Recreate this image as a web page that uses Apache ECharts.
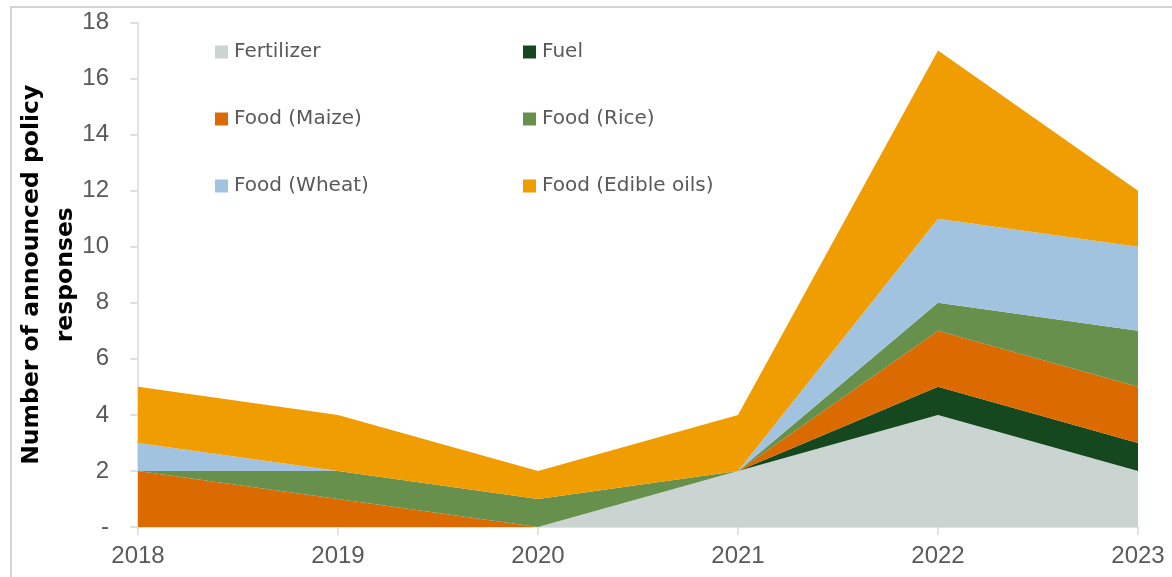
<!DOCTYPE html>
<html>
<head>
<meta charset="utf-8">
<script src="https://cdn.jsdelivr.net/npm/echarts@6/dist/echarts.min.js"></script>
<style>
html,body{margin:0;padding:0;background:#fff;}
#chart{width:1172px;height:577px;}
</style>
</head>
<body>
<div id="chart"></div>
<script>
var years = ['2018', '2019', '2020', '2021', '2022', '2023'];
var seriesNames = ['Fertilizer', 'Fuel', 'Food (Maize)', 'Food (Rice)', 'Food (Wheat)', 'Food (Edible oils)'];
var fertilizer = [0, 0, 0, 2, 4, 2];
var fuel = [0, 0, 0, 0, 1, 1];
var maize = [2, 1, 0, 0, 2, 2];
var rice = [0, 1, 1, 0, 1, 2];
var wheat = [1, 0, 0, 0, 3, 3];
var edibleOils = [2, 2, 1, 2, 6, 2];
var yTicks = [0, 2, 4, 6, 8, 10, 12, 14, 16, 18];

var colors = ['#CAD4D1', '#15481F', '#DB6A00', '#66904B', '#A2C3DF', '#EF9D00'];
var allData = [fertilizer, fuel, maize, rice, wheat, edibleOils];
var FONT = '"DejaVu Sans", sans-serif';
var NUMFONT = '"Liberation Sans", Arial, sans-serif';

var chart = echarts.init(document.getElementById('chart'), null, {renderer: 'canvas'});

var series = seriesNames.map(function (n, i) {
  return {
    name: n,
    type: 'line',
    stack: 'total',
    data: allData[i],
    symbol: 'none',
    lineStyle: {width: 0},
    areaStyle: {color: colors[i], opacity: 1},
    itemStyle: {color: colors[i]},
    emphasis: {disabled: true}
  };
});

var legendCommon = {
  orient: 'vertical',
  itemWidth: 13,
  itemHeight: 13,
  itemGap: 47,
  icon: 'rect',
  textStyle: {fontFamily: FONT, fontSize: 20, color: '#595959', lineHeight: 20, padding: [0, 0, 0, 1]},
  selectedMode: false
};

chart.setOption({
  animation: false,
  backgroundColor: '#fff',
  color: colors,
  grid: {left: 138, right: 34, top: 22.5, bottom: 50, containLabel: false},
  legend: [
    Object.assign({left: 210, top: 37, data: [seriesNames[0], seriesNames[2], seriesNames[4]]}, legendCommon),
    Object.assign({left: 518, top: 37, data: [seriesNames[1], seriesNames[3], seriesNames[5]]}, legendCommon)
  ],
  xAxis: {
    type: 'category',
    data: years,
    boundaryGap: false,
    axisLine: {lineStyle: {color: '#D9D9D9', width: 1.5}},
    axisTick: {show: true, length: 8, lineStyle: {color: '#D9D9D9', width: 1.5}},
    axisLabel: {fontFamily: NUMFONT, fontSize: 24, color: '#595959', margin: 17}
  },
  yAxis: {
    type: 'value',
    min: yTicks[0],
    max: yTicks[yTicks.length - 1],
    interval: 2,
    name: 'Number of announced policy\nresponses',
    nameLocation: 'middle',
    nameRotate: 90,
    nameGap: 55,
    nameMoveOverlap: false,
    nameTextStyle: {fontFamily: FONT, fontSize: 23.5, fontWeight: 'bold', color: '#000', lineHeight: 34},
    splitLine: {show: false},
    axisLine: {show: true, lineStyle: {color: '#D9D9D9', width: 1.5}},
    axisTick: {show: true, length: 8, lineStyle: {color: '#D9D9D9', width: 1.5}},
    axisLabel: {
      fontFamily: NUMFONT, fontSize: 24, color: '#595959', margin: 29,
      formatter: function (v) { return v === 0 ? '-' : String(v); }
    }
  },
  graphic: [
    {type: 'line', shape: {x1: 10, y1: 7, x2: 1172, y2: 7}, style: {stroke: '#D4D4D4', lineWidth: 2}, silent: true},
    {type: 'line', shape: {x1: 11, y1: 7, x2: 11, y2: 577}, style: {stroke: '#D4D4D4', lineWidth: 2}, silent: true}
  ],
  series: series
});
</script>
</body>
</html>
